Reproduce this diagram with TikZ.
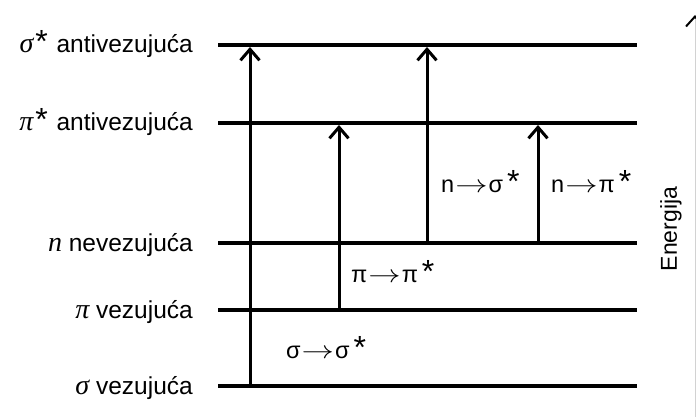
\documentclass[tikz,border=0pt]{standalone}
\usepackage{graphicx}
\usepackage{fontspec}
\setmainfont{Liberation Sans}
\newfontfamily\serifgr{Liberation Serif}
\usetikzlibrary{arrows.meta}

\newcommand{\orbsym}[1]{{\serifgr\itshape\fontsize{28}{30}\selectfont #1}}
\newcommand{\orbstar}{{\fontsize{32}{32}\selectfont *}}
\newcommand{\tarr}{\kern1pt\scalebox{1.3}[1]{$\rightarrow$}\kern1pt}

\begin{document}
\begin{tikzpicture}[
    x=1pt, y=-1pt,
    level/.style={line width=3.8pt},
    trans/.style={line width=3pt, -{Straight Barb[length=11pt, width=19pt, line width=3pt]}},
    lvllabel/.style={anchor=base east, inner sep=0pt, font=\fontsize{24.5}{28}\selectfont},
    translabel/.style={anchor=base west, inner sep=0pt, font=\fontsize{23.5}{28}\selectfont},
    axis/.style={line width=0.6pt, gray!35, -{Straight Barb[length=10pt, width=18pt, line width=2pt, color=black]}}
]
    \useasboundingbox (0,0) rectangle (696,417);

    % Level labels
    \node[lvllabel] (ssl) at (193,53) {\orbsym{σ}\kern2pt\orbstar\kern2pt\ antivezujuća};
    \node[lvllabel] (psl) at (193,131) {\orbsym{π}\kern2pt\orbstar\kern2pt\ antivezujuća};
    \node[lvllabel] (nl) at (193,251) {\orbsym{n}\ nevezujuća};
    \node[lvllabel] (pl) at (193,318) {\orbsym{π}\ vezujuća};
    \node[lvllabel] (sl) at (193,394) {\orbsym{σ}\ vezujuća};

    % Level lines
    \coordinate (ssa) at (218,45);  \coordinate (ssb) at (637,45);
    \coordinate (psa) at (218,123); \coordinate (psb) at (637,123);
    \coordinate (na) at (218,243);  \coordinate (nb) at (637,243);
    \coordinate (pa) at (218,310);  \coordinate (pb) at (637,310);
    \coordinate (sa) at (218,386);  \coordinate (sb) at (637,386);
    \draw[level] (ssa) -- (ssb);
    \draw[level] (psa) -- (psb);
    \draw[level] (na) -- (nb);
    \draw[level] (pa) -- (pb);
    \draw[level] (sa) -- (sb);

    % Transitions
    \coordinate (t1a) at (250,386); \coordinate (t1b) at (250,47);
    \coordinate (t2a) at (339,310); \coordinate (t2b) at (339,125);
    \coordinate (t3a) at (427,243); \coordinate (t3b) at (427,47);
    \coordinate (t4a) at (538,243); \coordinate (t4b) at (538,125);
    \draw[trans] (t1a) -- (t1b);
    \draw[trans] (t2a) -- (t2b);
    \draw[trans] (t3a) -- (t3b);
    \draw[trans] (t4a) -- (t4b);

    % Transition labels
    \node[translabel] (ss) at (286,358) {σ\tarr σ\kern4pt\orbstar};
    \node[translabel] (pp) at (351,282) {π\tarr π\kern4pt\orbstar};
    \node[translabel] (ns) at (441,192) {n\tarr σ\kern4pt\orbstar};
    \node[translabel] (np) at (551,192) {n\tarr π\kern4pt\orbstar};

    % Energy axis
    \coordinate (ax0) at (695,417);
    \coordinate (ax1) at (695,15);
    \draw[axis] (ax0) -- (ax1);
    \node[rotate=90, font=\fontsize{23}{26}\selectfont] (en) at (671,229) {Energija};
\end{tikzpicture}
\end{document}
